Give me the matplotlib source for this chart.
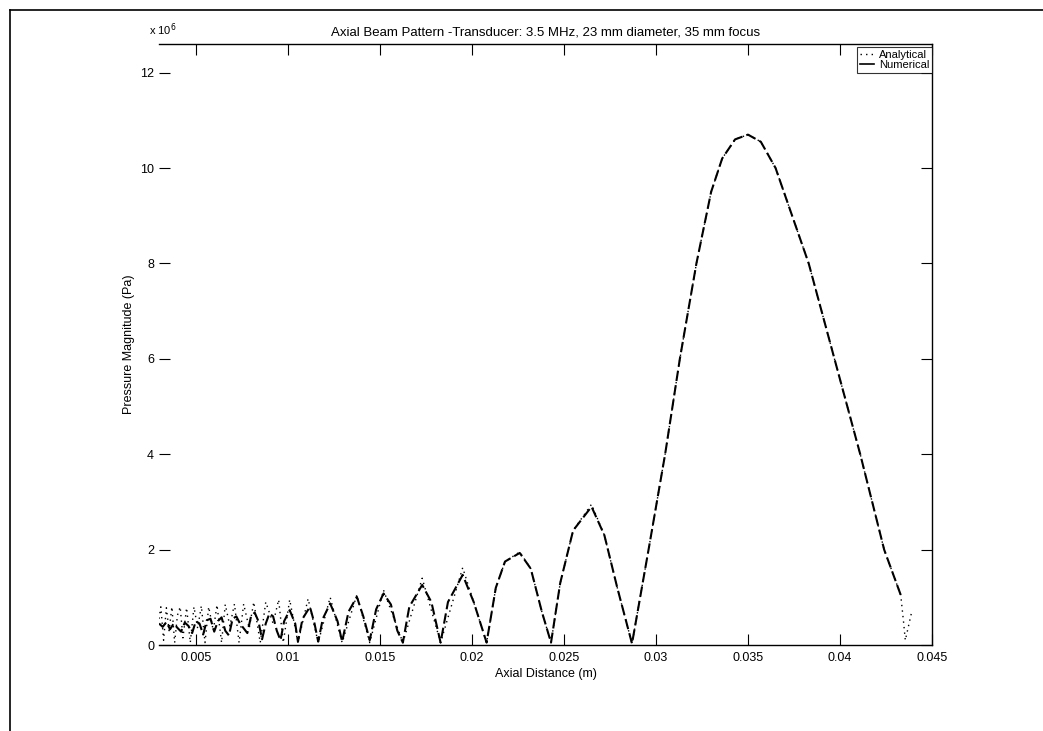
import matplotlib
matplotlib.use('Agg')
import matplotlib.pyplot as plt
from matplotlib.lines import Line2D
from matplotlib.ticker import FuncFormatter

# axial distance in mm, pressure in MPa (scaled to m / Pa when plotted)
num_z = [3.0, 3.2, 3.4, 3.6, 3.8, 4.0, 4.2, 4.4, 4.6, 4.8, 5.0, 5.2, 5.4, 5.6,
         5.8, 6.0, 6.2, 6.4, 6.6, 6.8, 7.0, 7.2, 7.4, 7.6, 7.8, 8.0, 8.2, 8.4,
         8.6, 8.8, 9.0, 9.2, 9.4, 9.6, 9.8, 10.1, 10.4, 10.55, 10.8, 11.2,
         11.45, 11.65, 11.9, 12.3, 12.7, 12.95, 13.3, 13.75, 14.1, 14.45,
         14.8, 15.2, 15.6, 15.95, 16.25, 16.6, 17.3, 17.8, 18.3, 18.7, 19.5,
         20.1, 20.8, 21.3, 21.8, 22.6, 23.2, 23.8, 24.3, 24.8, 25.5, 26.5,
         27.2, 27.9, 28.7, 29.6, 30.5, 31.3, 32.2, 33.0, 33.6, 34.3, 35.0,
         35.7, 36.5, 37.4, 38.3, 39.7, 41.1, 42.4, 43.3]
num_p = [0.45, 0.38, 0.48, 0.33, 0.45, 0.36, 0.28, 0.47, 0.40, 0.25, 0.50,
         0.45, 0.22, 0.52, 0.55, 0.28, 0.50, 0.58, 0.30, 0.20, 0.55, 0.60,
         0.45, 0.35, 0.25, 0.60, 0.68, 0.50, 0.12, 0.45, 0.66, 0.60, 0.30,
         0.10, 0.50, 0.73, 0.45, 0.07, 0.55, 0.80, 0.45, 0.07, 0.55, 0.87,
         0.50, 0.07, 0.70, 1.01, 0.60, 0.10, 0.75, 1.08, 0.85, 0.30, 0.05,
         0.80, 1.26, 0.90, 0.05, 0.90, 1.47, 0.90, 0.05, 1.20, 1.75, 1.93,
         1.60, 0.70, 0.05, 1.30, 2.40, 2.90, 2.30, 1.20, 0.03, 2.00, 4.00,
         6.00, 8.00, 9.50, 10.2, 10.6, 10.7, 10.55, 10.0, 9.0, 8.0, 6.0, 4.0,
         2.0, 1.05]

ana_z = [3.0, 3.1, 3.25, 3.4, 3.55, 3.7, 3.85, 4.0, 4.15, 4.3, 4.5, 4.7, 4.9,
         5.1, 5.3, 5.5, 5.7, 5.95, 6.15, 6.4, 6.6, 6.85, 7.1, 7.35, 7.6, 7.9,
         8.15, 8.5, 8.8, 9.2, 9.5, 9.75, 10.1, 10.55, 11.1, 11.65, 12.3,
         12.95, 13.75, 14.45, 15.2, 16.25, 17.3, 18.3, 19.5, 20.8, 21.3,
         21.8, 22.6, 23.2, 23.8, 24.3, 24.8, 25.5, 26.5, 27.2, 27.9, 28.7,
         29.6, 30.5, 31.3, 32.2, 33.0, 33.6, 34.3, 35.0, 35.7, 36.5, 37.4,
         38.3, 39.7, 41.1, 42.4, 43.3, 43.45, 43.55, 43.9]
ana_p = [0.55, 0.80, 0.10, 0.78, 0.30, 0.80, 0.05, 0.62, 0.80, 0.15, 0.78,
         0.05, 0.80, 0.35, 0.82, 0.05, 0.80, 0.30, 0.84, 0.05, 0.85, 0.40,
         0.86, 0.05, 0.86, 0.35, 0.90, 0.05, 0.90, 0.45, 0.95, 0.05, 0.95,
         0.05, 0.97, 0.05, 1.00, 0.05, 1.05, 0.05, 1.15, 0.05, 1.40, 0.05,
         1.62, 0.05, 1.20, 1.75, 1.95, 1.60, 0.70, 0.05, 1.30, 2.40, 2.95,
         2.30, 1.20, 0.03, 2.00, 4.00, 6.00, 8.00, 9.50, 10.2, 10.6, 10.7,
         10.55, 10.0, 9.0, 8.0, 6.0, 4.0, 2.0, 1.05, 0.5, 0.1, 0.7]

x_ticks = [0.005, 0.01, 0.015, 0.02, 0.025, 0.03, 0.035, 0.04, 0.045]
x_tick_labels = ['0.005', '0.01', '0.015', '0.02', '0.025', '0.03', '0.035', '0.04', '0.045']
y_ticks = [0, 2e6, 4e6, 6e6, 8e6, 10e6, 12e6]

plt.rcParams['font.family'] = ['Liberation Sans', 'DejaVu Sans']

W, H = 1043, 731
fig = plt.figure(figsize=(W / 100, H / 100), dpi=100)
ax = fig.add_axes([159 / W, 1 - 645 / H, (932 - 159) / W, (645 - 44) / H])

ax.plot([z / 1000 for z in ana_z], [p * 1e6 for p in ana_p], color='black',
        linestyle=(0, (1, 3)), linewidth=1.0)
ax.plot([z / 1000 for z in num_z], [p * 1e6 for p in num_p], color='black',
        linestyle=(0, (5, 2)), linewidth=1.5)

ax.set_xlim(0.003, 0.045)
ax.set_ylim(0, 12.6e6)
ax.set_xticks(x_ticks)
ax.set_xticklabels(x_tick_labels)
ax.set_yticks(y_ticks)
ax.yaxis.set_major_formatter(FuncFormatter(lambda v, pos: '%g' % (v / 1e6)))

ax.tick_params(direction='in', length=8, width=0.8, labelsize=9,
               top=True, right=True)
ax.tick_params(axis='x', pad=5)
for s in ax.spines.values():
    s.set_linewidth(1.0)
ax.spines['left'].set_visible(False)

ax.set_xlabel('Axial Distance (m)', fontsize=9, labelpad=3)
ax.set_ylabel('Pressure Magnitude (Pa)', fontsize=9, labelpad=4)
ax.set_title('Axial Beam Pattern -Transducer: 3.5 MHz, 23 mm diameter, 35 mm focus',
             fontsize=9.5, pad=6)
fig.text(149 / W, 1 - 38 / H, r'x 10$^6$', fontsize=8, ha='left', va='bottom')

handles = [Line2D([], [], color='black', linestyle=(0, (1, 3)), linewidth=1.0),
           Line2D([], [], color='black', linestyle='-', linewidth=1.2)]
leg = ax.legend(handles, ['Analytical', 'Numerical'], loc='upper right',
                fontsize=8, frameon=True, fancybox=False, borderaxespad=0,
                handlelength=1.3, handletextpad=0.4, borderpad=0.25,
                labelspacing=0.05, bbox_to_anchor=(1.0, 0.995))
leg.get_frame().set_edgecolor('black')
leg.get_frame().set_linewidth(0.8)

# scanned page border, top and left edges
fig.add_artist(Line2D([10 / W, 1.0], [1 - 10 / H, 1 - 10 / H],
                      transform=fig.transFigure, color='black', linewidth=1.2))
fig.add_artist(Line2D([10 / W, 10 / W], [0.0, 1 - 10 / H],
                      transform=fig.transFigure, color='black', linewidth=1.2))

fig.savefig('out.png', dpi=100, facecolor='white')
